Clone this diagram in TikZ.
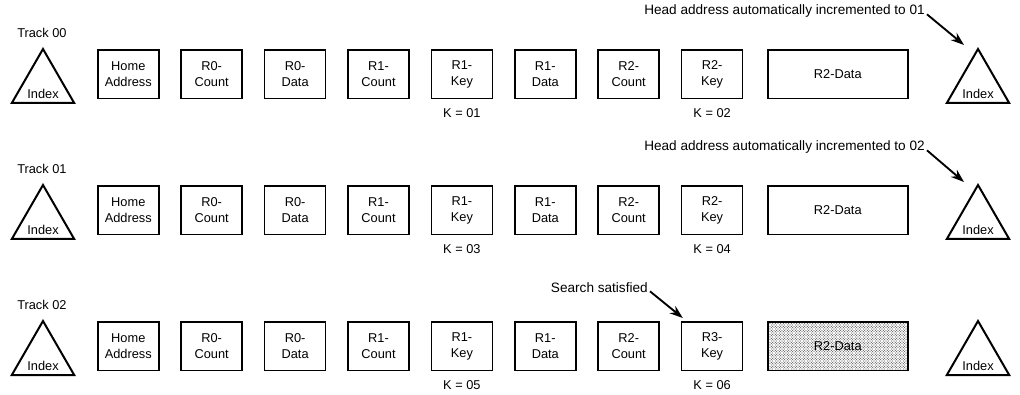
\documentclass[tikz,border=0pt]{standalone}
\usepackage{fontspec}
\setmainfont{Liberation Sans}
\usetikzlibrary{shapes.geometric,arrows.meta,patterns.meta,calc}
\newcommand{\dfont}{\fontsize{9.6}{12}\selectfont}
\newcommand{\hfont}{\fontsize{10.2}{12}\selectfont}
\tikzdeclarepattern{
  name=finedots,
  type=uncolored,
  bottom left={(-.1pt,-.1pt)},
  top right={(2.1pt,2.1pt)},
  tile size={(2pt,2pt)},
  code={\fill (0.5pt,0.5pt) circle (0.42pt); \fill (1.5pt,1.5pt) circle (0.42pt);}
}
\begin{document}
\begin{tikzpicture}[x=0.75pt,y=-0.75pt,
  rec/.style={draw, line width=1.2pt, minimum width=45.75pt, minimum height=36.5pt, inner sep=0pt, align=center, anchor=north west, font=\dfont},
  tri/.style={draw, line width=1.5pt, regular polygon, regular polygon sides=3, minimum size=54pt, inner sep=0pt, outer sep=0pt},
  lbl/.style={font=\dfont, inner sep=0pt},
  hlbl/.style={font=\hfont, inner sep=0pt},
  arr/.style={-{Stealth[length=10pt,width=7pt]}, line width=1.4pt},
  dplain/.style={},
  dshade/.style={pattern=finedots, pattern color=black!75}
]
\useasboundingbox (0,0) rectangle (1020,395);
\foreach \r/\T/\tr/\ka/\kb/\kn/\ds in {1/49/00/01/02/R2/dplain, 2/185/01/03/04/R2/dplain, 3/321/02/05/06/R3/dshade}{
  \node[lbl, anchor=west] (track\r) at (17,\T-16) {Track \tr};
  \node[tri] (ta\r) at (43,\T+36) {};
  \node[lbl, anchor=south] (tal\r) at ([yshift=3pt]ta\r.south) {Index};
  \node[rec] (ha\r) at (97,\T) {Home\\Address};
  \node[rec] (rc\r) at (180.4,\T) {R0-\\Count};
  \node[rec] (rd\r) at (263.8,\T) {R0-\\Data};
  \node[rec] (sc\r) at (347.2,\T) {R1-\\Count};
  \node[rec] (sk\r) at (430.6,\T) {R1-\\Key};
  \node[rec] (sd\r) at (514,\T) {R1-\\Data};
  \node[rec] (tc\r) at (597.4,\T) {R2-\\Count};
  \node[rec] (tk\r) at (680.8,\T) {\kn-\\Key};
  \node[rec, \ds, minimum width=105pt] (dd\r) at (767,\T) {R2-Data};
  \node[tri] (tb\r) at (978,\T+36) {};
  \node[lbl, anchor=south] (tbl\r) at ([yshift=3pt]tb\r.south) {Index};
  \node[lbl] (ka\r) at ([yshift=-10.5pt]sk\r.south) {K = \ka};
  \node[lbl] (kb\r) at ([yshift=-10.5pt]tk\r.south) {K = \kb};
}
\node[hlbl, anchor=east] (head1) at (925,11) {Head address automatically incremented to 01};
\coordinate (tip1) at ($(tb1.corner 1)+(-14,-4)$);
\draw[arr] ([xshift=1.5pt,yshift=-2.5pt]head1.east) -- (tip1);
\node[hlbl, anchor=east] (head2) at (925,147) {Head address automatically incremented to 02};
\coordinate (tip2) at ($(tb2.corner 1)+(-14,-3)$);
\draw[arr] ([xshift=1.5pt,yshift=-2.5pt]head2.east) -- (tip2);
\node[hlbl, anchor=east] (srch) at (648,288) {Search satisfied};
\coordinate (tip3) at ($(tk3.north west)+(2,-3)$);
\draw[arr] ([xshift=1.5pt,yshift=-2.5pt]srch.east) -- (tip3);
\end{tikzpicture}
\end{document}
